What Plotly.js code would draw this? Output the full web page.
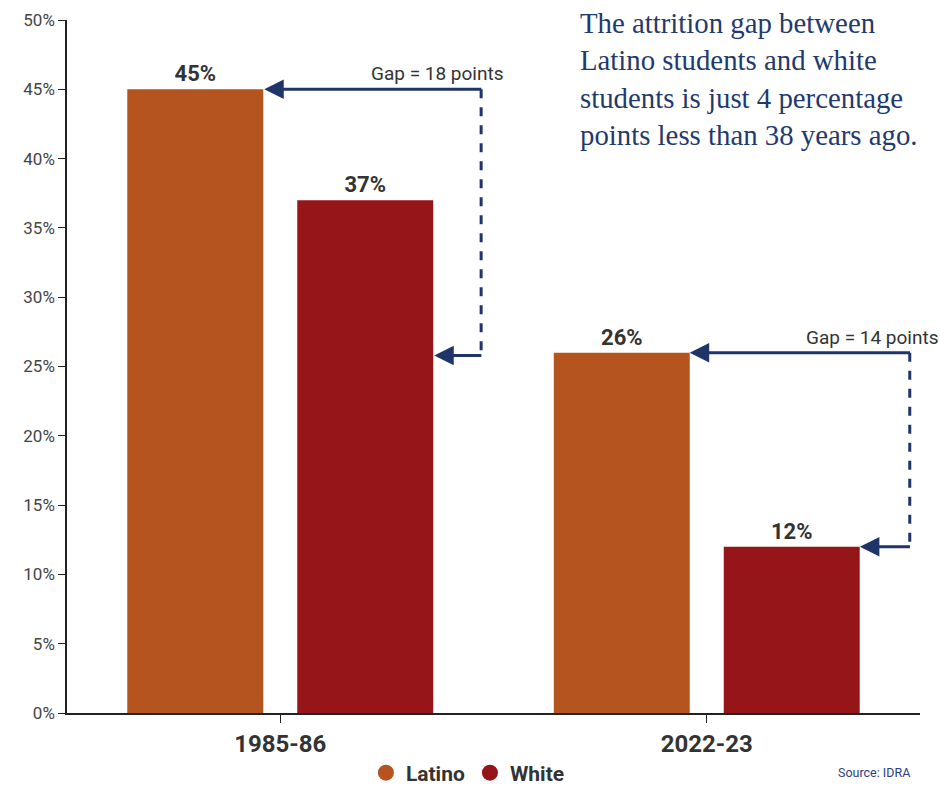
<!DOCTYPE html>
<html><head><meta charset="utf-8">
<script src="https://cdn.plot.ly/plotly-3.0.1.min.js"></script>
<style>html,body{margin:0;padding:0;background:#fff}#chart{width:940px;height:785px}</style>
</head><body><div id="chart"></div>
<script>
const categories = ['1985-86', '2022-23'];
const latino = [45, 26];
const white = [37, 12];
const seriesNames = ['Latino', 'White'];
const colors = ['#B5541E', '#951519'];
const navy = '#1F3468';

const font = 'Roboto, "Liberation Sans", sans-serif';

const traces = [
  {type:'bar', x:categories, y:latino, name:seriesNames[0], marker:{color:colors[0]},
   texttemplate:'<b>%{y}</b>', textposition:'outside', textfont:{family:font,size:22,color:'#333'},
   cliponaxis:false, showlegend:false, hoverinfo:'skip'},
  {type:'bar', x:categories, y:white, name:seriesNames[1], marker:{color:colors[1]},
   texttemplate:'<b>%{y}</b>', textposition:'outside', textfont:{family:font,size:22,color:'#333'},
   cliponaxis:false, showlegend:false, hoverinfo:'skip'},
  {type:'scatter', mode:'markers', x:[null], y:[null], name:'<b>'+seriesNames[0]+'</b>', marker:{color:colors[0], size:17, symbol:'circle'}},
  {type:'scatter', mode:'markers', x:[null], y:[null], name:'<b>'+seriesNames[1]+'</b>', marker:{color:colors[1], size:17, symbol:'circle'}}
];

// gap bracket positions (category units)
const gaps = [
  {cat:0, from:latino[0], to:25.8, xr:0.471, headTop:-0.0375, headBot:0.361, label:'Gap = 18 points', shift:25},
  {cat:1, from:latino[1], to:white[1], xr:0.476, headTop:-0.04, headBot:0.359, label:'Gap = 14 points', shift:31}
];
const shapes = [];
const annotations = [];
gaps.forEach(g => {
  const xr = g.cat + g.xr;
  shapes.push({type:'line', xref:'x', yref:'y', x0:xr, x1:xr, y0:g.from, y1:g.to,
    line:{color:navy, width:3, dash:'dash'}});
  annotations.push({xref:'x', yref:'y', axref:'x', ayref:'y', x:g.cat+g.headTop, y:g.from, ax:xr+0.004, ay:g.from,
    text:'', showarrow:true, arrowhead:2, arrowsize:1.3, arrowwidth:3, arrowcolor:navy, standoff:0});
  annotations.push({xref:'x', yref:'y', axref:'x', ayref:'y', x:g.cat+g.headBot, y:g.to, ax:xr+0.004, ay:g.to,
    text:'', showarrow:true, arrowhead:2, arrowsize:1.3, arrowwidth:3, arrowcolor:navy, standoff:0});
  annotations.push({xref:'x', yref:'y', x:xr, y:g.from, text:g.label, showarrow:false,
    xanchor:'right', yanchor:'bottom', xshift:g.shift, yshift:2, font:{family:font, size:19, color:'#333'}});
});
annotations.push({xref:'paper', yref:'paper', x:0.599, y:1.022, xanchor:'left', yanchor:'top', align:'left',
  text:'The attrition gap between<br>Latino students and white<br>students is just 4 percentage<br>points less than 38 years ago.',
  showarrow:false, font:{family:'"Liberation Serif", "DejaVu Serif", serif', size:28.8, color:'#1F3A6E'}});
annotations.push({xref:'paper', yref:'paper', x:0.9906, y:-0.0865, xanchor:'right', yanchor:'middle',
  text:'Source: IDRA', showarrow:false, font:{family:font, size:12.5, color:'#2E3F7F'}});

const layout = {
  width:940, height:785,
  margin:{l:67, r:20, t:20, b:72, autoexpand:false},
  paper_bgcolor:'#fff', plot_bgcolor:'#fff',
  barmode:'group', bargap:0.203, bargroupgap:0.2,
  font:{family:font, color:'#444'},
  xaxis:{type:'category', range:[-0.5, 1.5], automargin:false, showline:true, linecolor:'#222', linewidth:1.5, ticks:'outside', ticklen:8, tickcolor:'#222',
    tickfont:{family:font, size:24, color:'#333', weight:'bold'}, showgrid:false, zeroline:false},
  yaxis:{range:[0,50], automargin:false, dtick:5, ticksuffix:'%', showline:true, linecolor:'#222', linewidth:1.5, ticks:'outside', ticklen:7, tickcolor:'#222',
    tickfont:{family:font, size:17, color:'#444'}, showgrid:false, zeroline:false},
  showlegend:true,
  legend:{orientation:'h', x:0.47, xanchor:'center', y:-0.0866, yanchor:'middle', font:{family:font, size:21, color:'#333'}, itemwidth:30},
  shapes:shapes, annotations:annotations
};
Plotly.newPlot('chart', traces, layout, {displayModeBar:false});
</script></body></html>
